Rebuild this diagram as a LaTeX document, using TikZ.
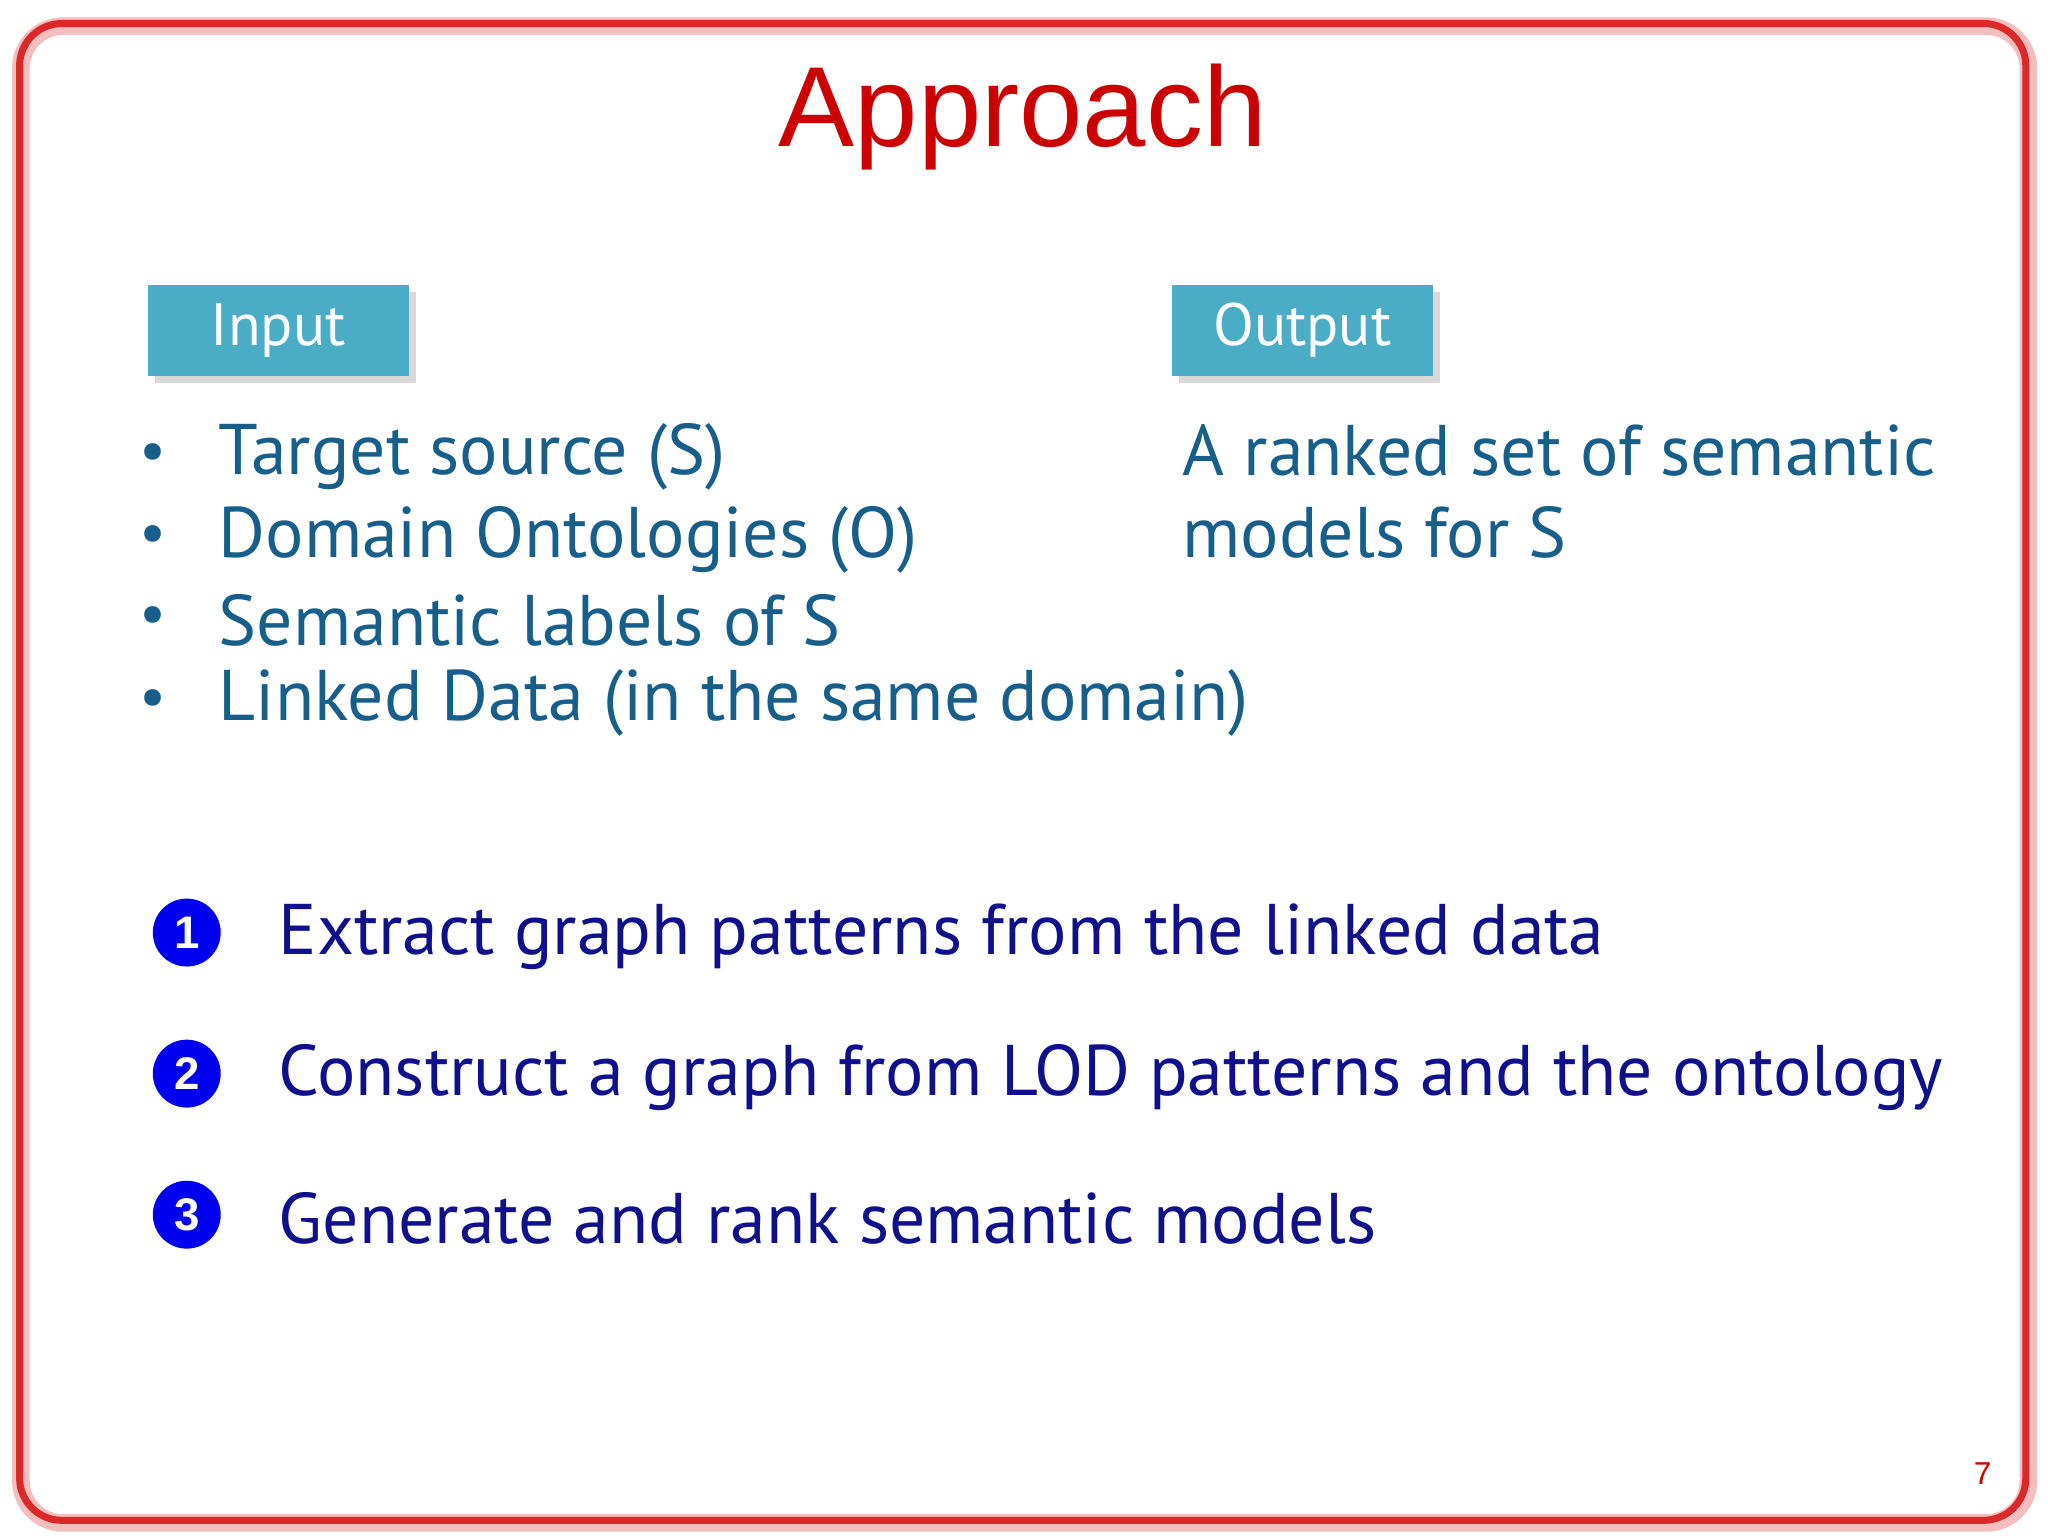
\documentclass[tikz,border=0pt]{standalone}
\usepackage{fontspec}
\setmainfont{PT Sans}
\newfontfamily\arialf{Liberation Sans}
\usetikzlibrary{shadows}
\definecolor{frame}{RGB}{220,40,40}
\definecolor{titlered}{RGB}{204,0,0}
\definecolor{boxblue}{RGB}{75,172,198}
\definecolor{teal}{RGB}{23,95,138}
\definecolor{navy}{RGB}{16,16,140}
\definecolor{numblue}{RGB}{0,0,238}
\tikzset{
 hdr/.style={fill=boxblue, minimum width=200*0.01306cm, minimum height=69*0.01306cm, text=white, font=\fontsize{17}{20}\selectfont, drop shadow={opacity=0.3, shadow xshift=2pt, shadow yshift=-2pt}},
 item/.style={anchor=west, text=teal, font=\fontsize{20.4}{24}\selectfont, inner sep=0pt},
 step1/.style={anchor=west, text=navy, font=\fontsize{20.4}{24}\selectfont, inner sep=0pt},
 num/.style={circle, fill=numblue, minimum size=52*0.01306cm, inner sep=0pt, text=white, font=\arialf\bfseries\fontsize{13}{14}\selectfont},
}
\begin{document}
\begin{tikzpicture}[x=0.01306cm, y=-0.01306cm]
\useasboundingbox (0,0) rectangle (1568,1176);
\draw[frame!30, line width=5pt, rounded corners=12pt] (16,20) rectangle (1553,1166);
\draw[frame, line width=2pt, rounded corners=12pt] (15,18) rectangle (1551,1164);
\node[text=titlered, font=\arialf\fontsize{32.4}{36}\selectfont] (title) at (783,90) {Approach};
\node[hdr] (in) at (213,253) {Input};
\node[hdr] (out) at (997,253) {Output};
\foreach \y/\t [count=\i] in {350/Target source (S), 413/Domain Ontologies (O), 475/Semantic labels of S, 538/Linked Data (in the same domain)} {
  \node[text=teal, font=\fontsize{17}{20}\selectfont] (b\i) at (117,\y) {•};
  \node[item] (t\i) at (167,\y) {\t};
}
\node[item] (o1) at (905,345) {A ranked set of semantic};
\node[item] (o2) at (905,408) {models for S};
\foreach \y/\t [count=\i] in {717/Extract graph patterns from the linked data, 825/Construct a graph from LOD patterns and the ontology, 933/Generate and rank semantic models} {
  \node[num] (n\i) at (143,\y-3) {\i};
  \node[step1] (s\i) at (213,\y) {\t};
}
\node[text=titlered, font=\arialf\fontsize{9}{10}\selectfont] (pg) at (1518,1128) {7};
\end{tikzpicture}
\end{document}
